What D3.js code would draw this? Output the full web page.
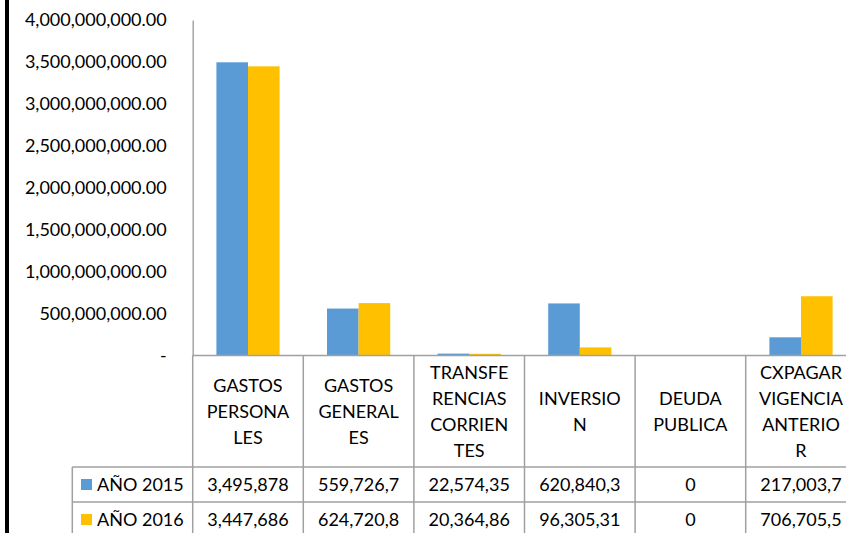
<!DOCTYPE html>
<html>
<head>
<meta charset="utf-8">
<script src="https://d3js.org/d3.v7.min.js"></script>
<style>
  body { margin: 0; background: #fff; }
  svg text { font-family: Lato, "Open Sans", sans-serif; fill: #000; }
</style>
</head>
<body>
<svg width="846" height="533"></svg>
<script>

var categories = ["GASTOS PERSONALES", "GASTOS GENERALES", "TRANSFERENCIAS CORRIENTES",
                  "INVERSION", "DEUDA PUBLICA", "CXPAGAR VIGENCIA ANTERIOR"];
// header text as it wraps inside the data table cells
var headerLines = [
  ["GASTOS", "PERSONA", "LES"],
  ["GASTOS", "GENERAL", "ES"],
  ["TRANSFE", "RENCIAS", "CORRIEN", "TES"],
  ["INVERSIO", "N"],
  ["DEUDA", "PUBLICA"],
  ["CXPAGAR", "VIGENCIA", "ANTERIO", "R"]
];
var series = ["AÑO 2015", "AÑO 2016"];
var values2015 = [3495878000, 559726700, 22574350, 620840300, 0, 217003700];
var values2016 = [3447686000, 624720800, 20364860, 96305310, 0, 706705500];
// what the table cells show (cut off by the cell width)
var table2015 = ["3,495,878", "559,726,7", "22,574,35", "620,840,3", "0", "217,003,7"];
var table2016 = ["3,447,686", "624,720,8", "20,364,86", "96,305,31", "0", "706,705,5"];
var yTicks = [0, 500000000, 1000000000, 1500000000, 2000000000, 2500000000, 3000000000, 3500000000, 4000000000];

var colors = ["#5B9BD5", "#FFC000"];
var seriesValues = [values2015, values2016];
var tableValues = [table2015, table2016];

var svg = d3.select("svg");

var plotLeft = 192.7, plotRight = 856.3, plotTop = 20, base = 355.5;
var headerBottom = 467, rowH = 35;

var x0 = d3.scaleBand()
    .domain(categories)
    .range([plotLeft, plotRight])
    .paddingInner(0).paddingOuter(0);

var x1 = d3.scaleBand()
    .domain(series)
    .range([0, x0.bandwidth()])
    .paddingInner(0).paddingOuter(0.75);

var y = d3.scaleLinear()
    .domain([0, 4000000000])
    .range([base, plotTop]);

// black stripe at the left edge
svg.append("rect")
    .attr("x", 5).attr("y", 0)
    .attr("width", 4).attr("height", 533)
    .attr("fill", "#000");

// y axis
var fmt = d3.format(",.2f");
var yAxis = svg.append("g")
    .attr("transform", "translate(" + plotLeft + ",0)")
    .call(d3.axisLeft(y)
        .tickValues(yTicks)
        .tickSize(0)
        .tickPadding(26)
        .tickFormat(function(d) { return d === 0 ? "-" : fmt(d); }));
yAxis.select(".domain")
    .attr("stroke", "#a6a6a6")
    .attr("stroke-width", 1.5);
yAxis.selectAll("text")
    .attr("font-size", 18)
    .attr("font-family", "Lato, 'Open Sans', sans-serif")
    .attr("fill", "#000");

// bars
var groups = svg.append("g")
  .selectAll("g")
  .data(categories)
  .enter().append("g")
    .attr("transform", function(d) { return "translate(" + x0(d) + ",0)"; });

groups.selectAll("rect")
  .data(function(d, i) {
      return series.map(function(s, j) { return { s: s, v: seriesValues[j][i], j: j }; });
  })
  .enter().append("rect")
    .attr("x", function(d) { return x1(d.s); })
    .attr("y", function(d) { return y(d.v); })
    .attr("width", x1.bandwidth())
    .attr("height", function(d) { return base - y(d.v); })
    .attr("fill", function(d) { return colors[d.j]; });

// data table grid
var grid = svg.append("g")
    .attr("stroke", "#a0a0a0")
    .attr("stroke-width", 1.5)
    .attr("fill", "none");

grid.append("line")
    .attr("x1", plotLeft).attr("x2", 846)
    .attr("y1", base).attr("y2", base);

[0, 1].forEach(function(r) {
  grid.append("line")
      .attr("x1", 72.3).attr("x2", 846)
      .attr("y1", headerBottom + r * rowH).attr("y2", headerBottom + r * rowH);
});

grid.append("line")
    .attr("x1", 72.3).attr("x2", 72.3)
    .attr("y1", headerBottom).attr("y2", 533);

categories.forEach(function(c) {
  grid.append("line")
      .attr("x1", x0(c)).attr("x2", x0(c))
      .attr("y1", base).attr("y2", 533);
});

// header labels
var headerMid = (base + headerBottom) / 2;
groups.each(function(d, i) {
  var lines = headerLines[i];
  var t = d3.select(this).append("text")
      .attr("text-anchor", "middle")
      .attr("font-size", 18);
  lines.forEach(function(line, k) {
    t.append("tspan")
        .attr("x", x0.bandwidth() / 2)
        .attr("y", headerMid + (k - (lines.length - 1) / 2) * 26)
        .attr("dy", "0.35em")
        .text(line);
  });
});

// table rows
series.forEach(function(s, j) {
  var cy = headerBottom + j * rowH + rowH / 2;
  svg.append("rect")
      .attr("x", 81).attr("y", cy - 5.5)
      .attr("width", 11).attr("height", 11)
      .attr("fill", colors[j]);
  svg.append("text")
      .attr("x", 97).attr("y", cy)
      .attr("dy", "0.35em")
      .attr("font-size", 18)
      .text(s);
  categories.forEach(function(c, i) {
    svg.append("text")
        .attr("x", x0(c) + x0.bandwidth() / 2)
        .attr("y", cy)
        .attr("dy", "0.35em")
        .attr("text-anchor", "middle")
        .attr("font-size", 18)
        .text(tableValues[j][i]);
  });
});

</script>
</body>
</html>
